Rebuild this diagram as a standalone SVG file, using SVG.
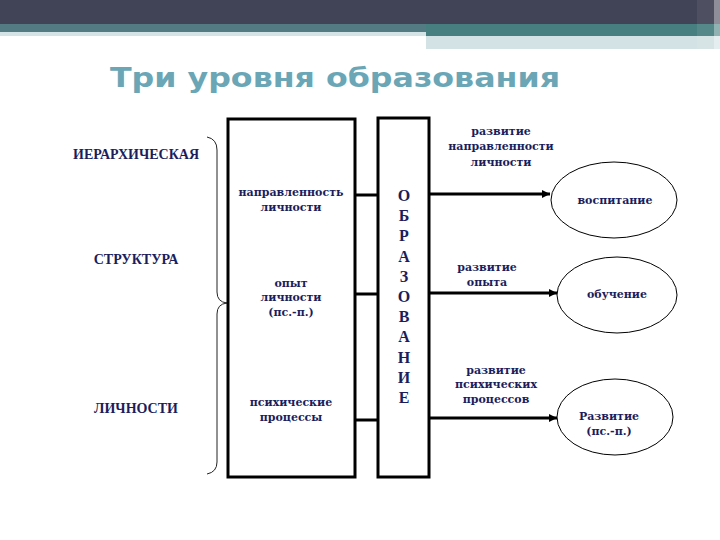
<svg xmlns="http://www.w3.org/2000/svg" width="720" height="540" viewBox="0 0 720 540">
<style>
.t{font-family:"DejaVu Serif","Liberation Serif",serif;font-weight:bold;font-size:11px;fill:#1b1d5c;text-anchor:middle}
.cap{font-family:"Liberation Serif","DejaVu Serif",serif;font-weight:bold;font-size:14px;fill:#1b1d5c;text-anchor:middle}
.big{font-family:"Liberation Serif","DejaVu Serif",serif;font-weight:bold;font-size:16px;fill:#1b1d5c;text-anchor:middle}
.box{fill:#fff;stroke:#000;stroke-width:3}
.ell{fill:#fff;stroke:#000;stroke-width:1}
.ln{stroke:#000;stroke-width:3;fill:none}
</style>
<defs>
<marker id="ah" markerUnits="userSpaceOnUse" markerWidth="10" markerHeight="10" refX="9" refY="5" orient="auto">
<path d="M1,1 L9,5 L1,9 Z" fill="#000"/>
</marker>
</defs>
<rect width="720" height="540" fill="#fff"/>
<g id="header">
<rect x="0" y="0" width="720" height="24" fill="#414356"/>
<rect x="0" y="24" width="426" height="8" fill="#527b84"/>
<rect x="0" y="32" width="426" height="4" fill="#d3e3e6"/>
<rect x="426" y="24" width="294" height="12" fill="#477f80"/>
<rect x="426" y="36" width="294" height="13" fill="#d3e2e5"/>
<rect x="697" y="0" width="17" height="49" fill="#fff" opacity="0.07"/>
<rect x="714" y="0" width="6" height="49" fill="#fff" opacity="0.4"/>
</g>
<text x="110" y="87" font-family="'DejaVu Sans','Open Sans',sans-serif" font-weight="bold" font-size="27" fill="#6aa6b5" textLength="450" lengthAdjust="spacingAndGlyphs">Три уровня образования</text>
<g id="left-labels">
<text class="cap" x="136" y="159">ИЕРАРХИЧЕСКАЯ</text>
<text class="cap" x="136" y="264">СТРУКТУРА</text>
<text class="cap" x="136" y="413">ЛИЧНОСТИ</text>
<path d="M207,137 Q217,139 217,150 L217,292 Q217,302 227,303 Q217,304 217,314 L217,462 Q217,472 207,474" fill="none" stroke="#222" stroke-width="1"/>
</g>
<g id="connectors">
<line class="ln" x1="355" y1="195" x2="378" y2="195"/>
<line class="ln" x1="355" y1="294" x2="378" y2="294"/>
<line class="ln" x1="355" y1="420" x2="378" y2="420"/>
<line class="ln" x1="429" y1="194" x2="550" y2="194" marker-end="url(#ah)"/>
<line class="ln" x1="429" y1="293" x2="557" y2="293" marker-end="url(#ah)"/>
<line class="ln" x1="429" y1="418" x2="557" y2="418" marker-end="url(#ah)"/>
</g>
<g id="structure-box">
<rect class="box" x="228" y="119" width="127" height="358"/>
<text class="t" x="291" y="196">направленность</text>
<text class="t" x="291" y="211">личности</text>
<text class="t" x="291" y="287">опыт</text>
<text class="t" x="291" y="301">личности</text>
<text class="t" x="291" y="316">(пс.-п.)</text>
<text class="t" x="291" y="406">психические</text>
<text class="t" x="291" y="421">процессы</text>
</g>
<g id="education-box">
<rect class="box" x="378" y="118" width="51" height="359"/>
<text class="big" x="404" y="201"><tspan x="404">О</tspan><tspan x="404" dy="20.2">Б</tspan><tspan x="404" dy="20.2">Р</tspan><tspan x="404" dy="20.2">А</tspan><tspan x="404" dy="20.2">З</tspan><tspan x="404" dy="20.2">О</tspan><tspan x="404" dy="20.2">В</tspan><tspan x="404" dy="20.2">А</tspan><tspan x="404" dy="20.2">Н</tspan><tspan x="404" dy="20.2">И</tspan><tspan x="404" dy="20.2">Е</tspan></text>
</g>
<g id="arrow-labels">
<text class="t" x="501" y="135">развитие</text>
<text class="t" x="501" y="150">направленности</text>
<text class="t" x="501" y="166">личности</text>
<text class="t" x="487" y="271">развитие</text>
<text class="t" x="487" y="286">опыта</text>
<text class="t" x="496" y="374">развитие</text>
<text class="t" x="496" y="388">психических</text>
<text class="t" x="496" y="403">процессов</text>
</g>
<g id="vospitanie">
<ellipse class="ell" cx="614" cy="200" rx="63" ry="38"/>
<text class="t" x="615" y="204">воспитание</text>
</g>
<g id="obuchenie">
<ellipse class="ell" cx="617" cy="295" rx="60" ry="38"/>
<text class="t" x="617" y="298">обучение</text>
</g>
<g id="razvitie">
<ellipse class="ell" cx="615" cy="417" rx="58" ry="38"/>
<text class="t" x="609" y="420">Развитие</text>
<text class="t" x="609" y="435">(пс.-п.)</text>
</g>
</svg>
